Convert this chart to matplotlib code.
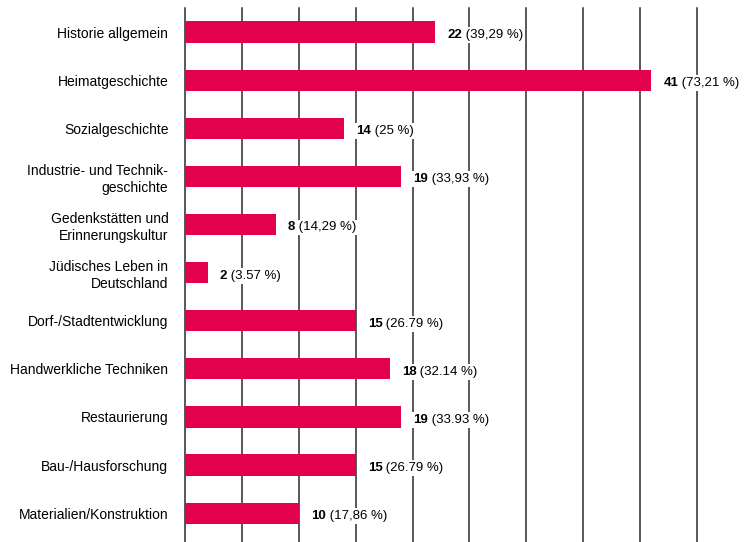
import matplotlib.pyplot as plt

plt.rcParams['font.family'] = ['Liberation Sans', 'DejaVu Sans']

BAR_COLOR = "#E3004F"
GRID_COLOR = "#2b2b2b"

categories = [
    "Historie allgemein",
    "Heimatgeschichte",
    "Sozialgeschichte",
    "Industrie- und Technik-\ngeschichte",
    "Gedenkstätten und\nErinnerungskultur",
    "Jüdisches Leben in\nDeutschland",
    "Dorf-/Stadtentwicklung",
    "Handwerkliche Techniken",
    "Restaurierung",
    "Bau-/Hausforschung",
    "Materialien/Konstruktion",
]
counts = [22, 41, 14, 19, 8, 2, 15, 18, 19, 15, 10]
shares = ["39,29 %", "73,21 %", "25 %", "33,93 %", "14,29 %", "3.57 %",
          "26.79 %", "32.14 %", "33.93 %", "26.79 %", "17,86 %"]
grid_ticks = [0, 5, 10, 15, 20, 25, 30, 35, 40, 45]

fig = plt.figure(figsize=(7.55, 5.42), dpi=100)
ax = fig.add_axes([185 / 755, 0, (697 - 185) / 755, 534 / 542])

ypos = list(range(len(categories)))
ax.barh(ypos, counts, height=0.44, color=BAR_COLOR, zorder=2)

for g in grid_ticks:
    ax.axvline(g, color=GRID_COLOR, linewidth=1.1, zorder=1, clip_on=False)

ax.set_xlim(0, 45)
ax.set_ylim(10.6, -0.5)
for s in ax.spines.values():
    s.set_visible(False)
ax.set_xticks([])
ax.set_yticks(ypos)
ax.set_yticklabels(categories, fontsize=10, linespacing=1.3)
ax.tick_params(axis="y", length=0, pad=12)

box = dict(boxstyle="square,pad=0.15", facecolor="white", edgecolor="none")
for y, c, s in zip(ypos, counts, shares):
    t1 = ax.annotate(str(c), xy=(c, y), xytext=(12, -3), textcoords="offset pixels",
                     ha="left", va="center", fontsize=9.5, fontweight="bold",
                     bbox=box, zorder=4)
    ax.annotate(f" ({s})", xy=(1, 0.5), xycoords=t1, ha="left", va="center",
                fontsize=9.5, bbox=box, zorder=3)

fig.savefig("out.png", dpi=100)
